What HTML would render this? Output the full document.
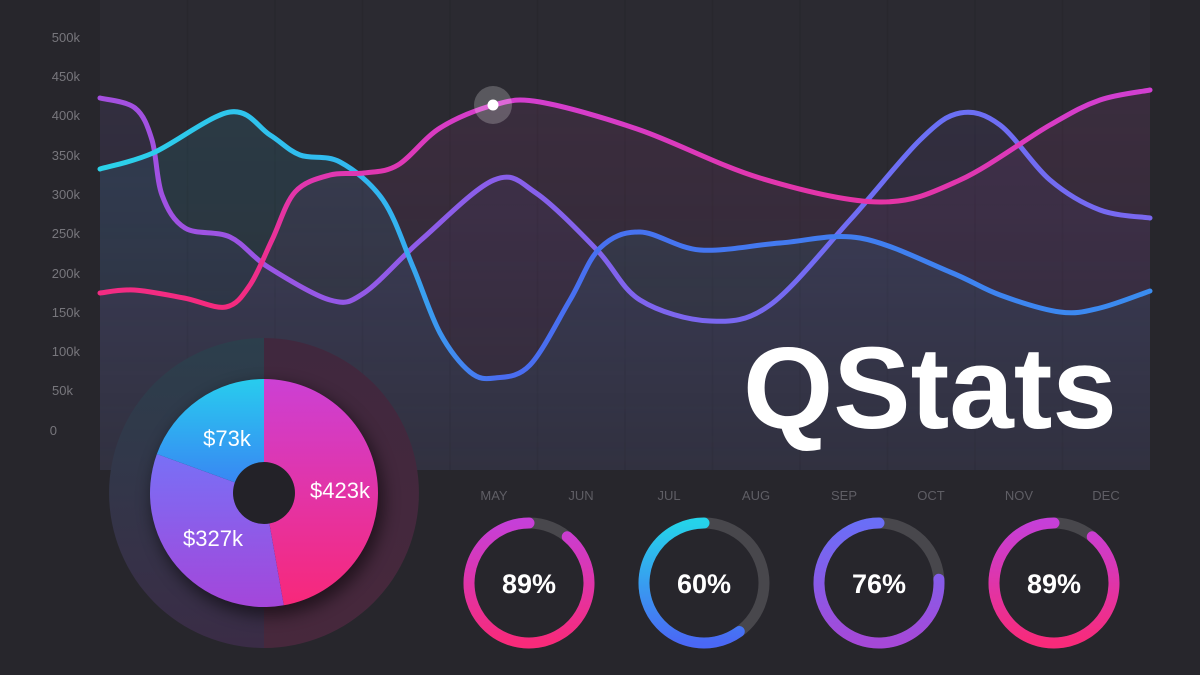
<!DOCTYPE html>
<html><head><meta charset="utf-8"><style>
html,body{margin:0;padding:0;background:#27262c;}
svg{display:block}
</style></head><body>
<svg id="s" width="1200" height="675" viewBox="0 0 1200 675" xmlns="http://www.w3.org/2000/svg" font-family="Liberation Sans, sans-serif">
<defs>
<linearGradient id="gc" gradientUnits="userSpaceOnUse" x1="100" y1="0" x2="1150" y2="0">
<stop offset="0" stop-color="#2bd2ea"/><stop offset="0.28" stop-color="#33b4f0"/><stop offset="0.38" stop-color="#4a6cf0"/><stop offset="1" stop-color="#3a8cf0"/></linearGradient>
<linearGradient id="gp" gradientUnits="userSpaceOnUse" x1="0" y1="90" x2="0" y2="310">
<stop offset="0" stop-color="#d23fd2"/><stop offset="1" stop-color="#f52a7c"/></linearGradient>
<linearGradient id="gv" gradientUnits="userSpaceOnUse" x1="100" y1="0" x2="1150" y2="0">
<stop offset="0" stop-color="#a54fe0"/><stop offset="0.8" stop-color="#6a70f5"/><stop offset="1" stop-color="#7a68f0"/></linearGradient>
<linearGradient id="fa" gradientUnits="userSpaceOnUse" x1="0" y1="100" x2="0" y2="470"><stop offset="0" stop-color="#fff" stop-opacity="1"/><stop offset="1" stop-color="#fff" stop-opacity="0.35"/></linearGradient>
<mask id="fm"><rect x="0" y="0" width="1200" height="470" fill="url(#fa)"/></mask>
<linearGradient id="d1" x1="0" y1="0" x2="0" y2="1"><stop offset="0" stop-color="#c63fd8"/><stop offset="1" stop-color="#f82a7a"/></linearGradient>
<linearGradient id="d2" x1="0" y1="0" x2="0" y2="1"><stop offset="0" stop-color="#25d3ea"/><stop offset="1" stop-color="#4a68f5"/></linearGradient>
<linearGradient id="d3" x1="0" y1="0" x2="0" y2="1"><stop offset="0" stop-color="#6a6ef7"/><stop offset="1" stop-color="#a648d8"/></linearGradient>
<linearGradient id="pm" x1="0" y1="0" x2="0" y2="1"><stop offset="0" stop-color="#cc40d4"/><stop offset="1" stop-color="#f8287a"/></linearGradient>
<linearGradient id="pv" x1="0" y1="0" x2="0" y2="1"><stop offset="0" stop-color="#7870f6"/><stop offset="1" stop-color="#a446da"/></linearGradient>
<linearGradient id="pb" x1="0" y1="0" x2="0" y2="1"><stop offset="0" stop-color="#28ccee"/><stop offset="1" stop-color="#3a80f4"/></linearGradient>
<linearGradient id="rl" x1="0" y1="0" x2="0" y2="1"><stop offset="0" stop-color="#2c3f4c"/><stop offset="1" stop-color="#3a2c46"/></linearGradient>
<linearGradient id="rr" x1="0" y1="0" x2="0" y2="1"><stop offset="0" stop-color="#40283e"/><stop offset="1" stop-color="#47283c"/></linearGradient>
<filter id="sh" x="-30%" y="-30%" width="160%" height="160%"><feGaussianBlur stdDeviation="8"/></filter>
</defs>
<rect width="1200" height="675" fill="#27262c"/>
<rect x="100" y="0" width="1050" height="470" fill="#2b2a31"/>
<g id="grid" stroke="#28272d" stroke-width="1.5"></g>
<g id="areas" mask="url(#fm)"></g>
<g id="lines" fill="none" stroke-width="5" stroke-linecap="round"></g>
<circle cx="493" cy="105" r="19" fill="#fff" fill-opacity="0.22"/>
<circle cx="493" cy="105" r="5.5" fill="#fff"/>
<g fill="#77767c" font-size="13" text-anchor="end">
<text x="80" y="42">500k</text><text x="80" y="81">450k</text><text x="80" y="120">400k</text><text x="80" y="160">350k</text><text x="80" y="199">300k</text><text x="80" y="238">250k</text><text x="80" y="278">200k</text><text x="80" y="317">150k</text><text x="80" y="356">100k</text><text x="73" y="395">50k</text><text x="57" y="435">0</text>
</g>
<g fill="#5f5e65" font-size="13" text-anchor="middle">
<text x="143" y="500">JAN</text><text x="231" y="500">FEB</text><text x="318" y="500">MAR</text><text x="406" y="500">APR</text><text x="494" y="500">MAY</text><text x="581" y="500">JUN</text><text x="669" y="500">JUL</text><text x="756" y="500">AUG</text><text x="844" y="500">SEP</text><text x="931" y="500">OCT</text><text x="1019" y="500">NOV</text><text x="1106" y="500">DEC</text>
</g>
<text x="743" y="428" fill="#fff" font-size="116" font-weight="bold">QStats</text>
<path d="M264 338 A155 155 0 0 0 264 648 Z" fill="url(#rl)"/>
<path d="M264 338 A155 155 0 0 1 264 648 Z" fill="url(#rr)"/>
<circle cx="268" cy="500" r="116" fill="#000" opacity="0.5" filter="url(#sh)"/>
<g id="pie"></g>
<circle cx="264" cy="493" r="31" fill="#232228"/>
<g fill="#fff" font-size="22" text-anchor="middle">
<text x="227" y="446">$73k</text><text x="340" y="498">$423k</text><text x="213" y="546">$327k</text>
</g>
<g id="donuts" fill="none" stroke-width="11" stroke-linecap="round"></g>
<g fill="#fff" font-size="27" font-weight="bold" text-anchor="middle">
<text x="529" y="593">89%</text><text x="704" y="593">60%</text><text x="879" y="593">76%</text><text x="1054" y="593">89%</text>
</g>
</svg>
<script>
var NS="http://www.w3.org/2000/svg";
function el(p,t,a){var e=document.createElementNS(NS,t);for(var k in a)e.setAttribute(k,a[k]);document.getElementById(p).appendChild(e);return e;}
for(var i=1;i<12;i++)el("grid","line",{x1:100+87.5*i,y1:0,x2:100+87.5*i,y2:470});
function cr(p){var d="M"+p[0][0]+" "+p[0][1];for(var i=0;i<p.length-1;i++){var a=p[i-1]||p[i],b=p[i],c=p[i+1],e=p[i+2]||c;
d+=" C"+(b[0]+(c[0]-a[0])/6).toFixed(1)+" "+(b[1]+(c[1]-a[1])/6).toFixed(1)+" "+(c[0]-(e[0]-b[0])/6).toFixed(1)+" "+(c[1]-(e[1]-b[1])/6).toFixed(1)+" "+c[0]+" "+c[1];}return d;}
var pink=[[100,293],[134,290],[184,298],[226,307],[250,285],[272,240],[295,192],[330,175],[364,173],[398,165],[440,128],[494,105],[540,102],[640,130],[760,178],[880,202],[960,180],[1050,125],[1100,100],[1150,90]];
var cyan=[[100,169],[153,153],[230,112],[270,135],[300,155],[340,162],[383,200],[413,267],[440,333],[470,372],[495,378],[530,365],[570,300],[600,248],[640,232],[700,250],[780,243],[860,238],[950,272],[1000,295],[1060,312],[1100,308],[1150,291]];
var purp=[[100,98],[135,108],[152,140],[162,195],[185,228],[230,237],[268,267],[330,300],[364,293],[421,240],[494,180],[536,193],[597,250],[640,300],[710,321],[770,305],[850,220],[920,140],[960,113],[1000,125],[1050,180],[1100,210],[1150,218]];
function area(p,c,o){el("areas","path",{d:cr(p)+" L1150 470 L100 470 Z",fill:c,"fill-opacity":o});}
area(pink,"#b0409a",0.12);area(cyan,"#2aa6c8",0.14);area(purp,"#7a5ad8",0.09);
el("lines","path",{d:cr(purp),stroke:"url(#gv)"});
el("lines","path",{d:cr(cyan),stroke:"url(#gc)"});
el("lines","path",{d:cr(pink),stroke:"url(#gp)"});
function pt(cx,cy,r,a){a=a*Math.PI/180;return [cx+r*Math.sin(a),cy-r*Math.cos(a)];}
function slice(a0,a1,f){var s=pt(264,493,114,a0),e=pt(264,493,114,a1);el("pie","path",{d:"M264 493 L"+s[0]+" "+s[1]+" A114 114 0 "+(a1-a0>180?1:0)+" 1 "+e[0]+" "+e[1]+" Z",fill:f});}
slice(0,170,"url(#pm)");slice(170,290,"url(#pv)");slice(290,360,"url(#pb)");
function donut(cx,p,g){el("donuts","circle",{cx:cx,cy:583,r:60,stroke:"#48474c"});var a0=(1-p)*360,s=pt(cx,583,60,a0);
el("donuts","path",{d:"M"+s[0]+" "+s[1]+" A60 60 0 "+(p>0.5?1:0)+" 1 "+cx+" 523",stroke:g});}
donut(529,0.89,"url(#d1)");donut(704,0.6,"url(#d2)");donut(879,0.76,"url(#d3)");donut(1054,0.89,"url(#d1)");
</script>
</body></html>
